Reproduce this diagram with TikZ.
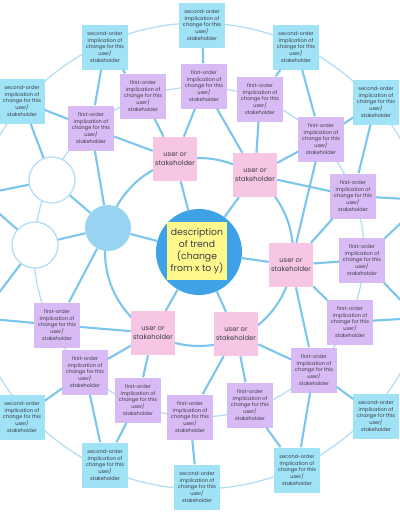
\documentclass[tikz,border=0pt]{standalone}
\usepackage{fontspec}
\setmainfont{Poppins}
\usepackage{xcolor}
\usepackage{tikz}
\definecolor{spokeblue}{RGB}{124,198,237}
\definecolor{ringblue}{RGB}{180,220,243}
\definecolor{trendblue}{RGB}{62,162,230}
\definecolor{userpink}{RGB}{246,198,228}
\definecolor{firstlilac}{RGB}{216,187,245}
\definecolor{secondcyan}{RGB}{160,226,246}
\definecolor{trendyellow}{RGB}{255,249,140}
\definecolor{dotblue}{RGB}{152,212,242}
\definecolor{notetext}{RGB}{60,60,70}
\newcommand{\firsttxt}{first-order\\implication of\\change for this\\user/\\stakeholder}
\newcommand{\secondtxt}{second-order\\implication of\\change for this\\user/\\stakeholder}

\begin{document}
\begin{tikzpicture}[x=0.025cm,y=-0.025cm,
  spoke/.style={draw=spokeblue,line width=1.5pt},
  ring/.style={draw=ringblue,line width=0.9pt},
  note/.style={inner sep=0pt,align=center,text=notetext},
  userbox/.style={note,fill=userpink,minimum size=1.1cm,font=\fontsize{4.8}{6.2}\selectfont},
  firstbox/.style={note,fill=firstlilac,minimum size=1.125cm,font=\fontsize{3.6}{4.7}\selectfont},
  secondbox/.style={note,fill=secondcyan,minimum size=1.125cm,font=\fontsize{3.6}{4.7}\selectfont},
  hubdot/.style={circle,minimum size=1.15cm,inner sep=0pt}]
\useasboundingbox (0,0) rectangle (400,516);
\clip (0,0) rectangle (400,516);
\fill[white] (0,0) rectangle (400,516);
\draw[ring] (199,256) circle (233);
\draw[ring] (199,252) circle (165);
\draw[spoke] (199,252) circle (94);

\node[circle,fill=trendblue,minimum size=2.15cm,inner sep=0pt] (hub) at (199,252) {};
\node[note,fill=trendyellow,minimum width=1.5cm,minimum height=1.47cm,font=\fontsize{6.6}{8.6}\selectfont] (trend) at (197,251) {description\\of trend\\(change\\from x to y)};
\node[hubdot,fill=dotblue] (dot) at (108,228) {};
\node[hubdot,fill=white,draw=ringblue,line width=0.9pt] (open1) at (52,180) {};
\node[hubdot,fill=white,draw=ringblue,line width=0.9pt] (open2) at (35,245) {};

\node[userbox] (u1) at (175,159) {user or\\stakeholder};
\node[userbox] (u2) at (255,175) {user or\\stakeholder};
\node[userbox] (u3) at (291,265) {user or\\stakeholder};
\node[userbox] (u4) at (236,334) {user or\\stakeholder};
\node[userbox] (u5) at (153,333) {user or\\stakeholder};

\node[firstbox] (f1) at (143,96) {\firsttxt};
\node[firstbox] (f2) at (91,128) {\firsttxt};
\node[firstbox] (f3) at (204,86) {\firsttxt};
\node[firstbox] (f4) at (260,99) {\firsttxt};
\node[firstbox] (f5) at (321,139) {\firsttxt};
\node[firstbox] (f6) at (353,196) {\firsttxt};
\node[firstbox] (f7) at (362,260) {\firsttxt};
\node[firstbox] (f8) at (350,322) {\firsttxt};
\node[firstbox] (f9) at (314,370) {\firsttxt};
\node[firstbox] (f10) at (250,405) {\firsttxt};
\node[firstbox] (f11) at (190,417) {\firsttxt};
\node[firstbox] (f12) at (138,400) {\firsttxt};
\node[firstbox] (f13) at (85,372) {\firsttxt};
\node[firstbox] (f14) at (57,325) {\firsttxt};

\node[secondbox] (s1) at (22,101) {\secondtxt};
\node[secondbox] (s2) at (105,47) {\secondtxt};
\node[secondbox] (s3) at (202,25) {\secondtxt};
\node[secondbox] (s4) at (296,47) {\secondtxt};
\node[secondbox] (s5) at (376,102) {\secondtxt};
\node[secondbox] (s7) at (376,416) {\secondtxt};
\node[secondbox] (s8) at (297,470) {\secondtxt};
\node[secondbox] (s9) at (197,487) {\secondtxt};
\node[secondbox] (s10) at (105,465) {\secondtxt};
\node[secondbox] (s11) at (22,417) {\secondtxt};
\coordinate (r1) at (425,200);
\coordinate (r2) at (418,318);
\coordinate (l1) at (-22,195);
\coordinate (l2) at (-20,318);

\draw[spoke] (hub) -- (u1) (hub) -- (u2) (hub) -- (u3) (hub) -- (u4) (hub) -- (u5) (hub) -- (dot);
\draw[spoke] (u1) -- (f1) (u1) -- (f2) (u1) -- (f3);
\draw[spoke] (u2) -- (f3) (u2) -- (f4) (u2) -- (f5) (u2) -- (f6);
\draw[spoke] (u3) -- (f5) (u3) -- (f6) (u3) -- (f7) (u3) -- (f8) (u3) -- (f9);
\draw[spoke] (u4) -- (f9) (u4) -- (f10) (u4) -- (f11);
\draw[spoke] (u5) -- (f12) (u5) -- (f13) (u5) -- (f14);
\draw[spoke] (dot) -- (f2) (dot) -- (open1) (dot) -- (open2) (dot) -- (f14);
\draw[spoke] (f1) -- (s2) (f2) -- (s1) (f2) -- (s2) (f3) -- (s3) (f4) -- (s4);
\draw[spoke] (f5) -- (s4) (f5) -- (s5) (f6) -- (s5) (f6) -- (r1) (f7) -- (r1);
\draw[spoke] (f7) -- (r2) (f8) -- (r2) (f9) -- (s7) (f9) -- (s8) (f10) -- (s8);
\draw[spoke] (f11) -- (s9) (f12) -- (s10) (f13) -- (s10) (f13) -- (s11) (f14) -- (l2);
\draw[spoke] (open1) -- (s1) (open1) -- (l1) (open2) -- (l1) (open2) -- (l2);
\end{tikzpicture}
\end{document}
